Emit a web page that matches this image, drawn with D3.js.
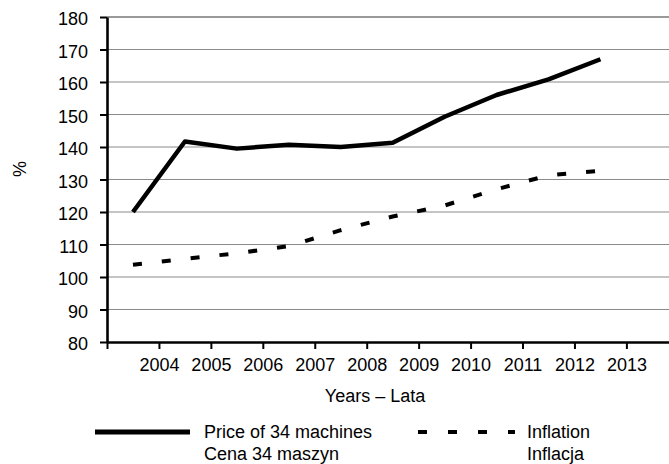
<!DOCTYPE html>
<html>
<head>
<meta charset="utf-8">
<script src="https://cdn.jsdelivr.net/npm/d3@7"></script>
<style>
    body { margin: 0; background: #fff; }
    svg { display: block; font-family: "Liberation Sans", Arial, sans-serif; }
</style>
</head>
<body>
<svg id="chart"></svg>
<script>
// tick labels sit on the right edge of each data band
const years = ['2004', '2005', '2006', '2007', '2008', '2009', '2010', '2011', '2012', '2013'];
const price = [120, 141.7, 139.5, 140.7, 140, 141.3, 149.3, 156, 160.8, 167];
const inflation = [103.8, 105.6, 107.3, 109.5, 114.4, 118.6, 122, 127, 131.3, 132.7];
const yTicks = [80, 90, 100, 110, 120, 130, 140, 150, 160, 170, 180];
const legendItems = [
    { lines: ['Price of 34 machines', 'Cena 34 maszyn'], dash: null },
    { lines: ['Inflation', 'Inflacja'], dash: '9,21' }
];

const width = 669;
const height = 464;
const plotLeft = 107, plotTop = 17, plotBottom = 342;
const band = 51.94;

const svg = d3.select('#chart')
    .attr('width', width)
    .attr('height', height);

const x = d3.scaleLinear()
    .domain([0, 11])
    .range([plotLeft, plotLeft + 11 * band]);

const y = d3.scaleLinear()
    .domain([80, 180])
    .range([plotBottom, plotTop]);

// grid
svg.append('g')
    .selectAll('line')
    .data(yTicks.slice(1))
    .join('line')
        .attr('x1', plotLeft)
        .attr('x2', width)
        .attr('y1', d => y(d))
        .attr('y2', d => y(d))
        .attr('stroke', d => d === 180 ? '#999' : '#8a8a8a')
        .attr('stroke-width', d => d === 180 ? 2 : 1);

// y axis
const yAxis = svg.append('g')
    .attr('transform', `translate(${plotLeft},0)`)
    .call(d3.axisLeft(y).tickValues(yTicks).tickSize(7).tickPadding(12).tickSizeOuter(0));
yAxis.select('.domain').attr('stroke', '#000').attr('stroke-width', 2.6);
yAxis.selectAll('.tick line').attr('stroke', '#000').attr('stroke-width', 2);
yAxis.selectAll('.tick text')
    .attr('font-size', 18)
    .attr('fill', '#000')
    .attr('dy', '0.42em');

// x axis
const xAxis = svg.append('g')
    .attr('transform', `translate(0,${plotBottom})`)
    .call(d3.axisBottom(x)
        .tickValues(d3.range(0, 12))
        .tickFormat(i => years[i - 1] || '')
        .tickSize(7)
        .tickPadding(9)
        .tickSizeOuter(0));
xAxis.select('.domain').attr('stroke', '#000').attr('stroke-width', 2.6);
xAxis.selectAll('.tick line').attr('stroke', '#000').attr('stroke-width', 2);
xAxis.selectAll('.tick text')
    .attr('font-size', 18)
    .attr('fill', '#000');

// axis titles
svg.append('text')
    .attr('transform', 'translate(26,169) rotate(-90)')
    .attr('text-anchor', 'middle')
    .attr('font-size', 18)
    .text('%');

svg.append('text')
    .attr('x', 375)
    .attr('y', 402)
    .attr('text-anchor', 'middle')
    .attr('font-size', 18)
    .text('Years – Lata');

// series
const line = d3.line()
    .x((d, i) => x(i + 0.5))
    .y(d => y(d));

svg.append('path')
    .datum(inflation)
    .attr('fill', 'none')
    .attr('stroke', '#000')
    .attr('stroke-width', 4)
    .attr('stroke-dasharray', '9,20')
    .attr('d', line);

svg.append('path')
    .datum(price)
    .attr('fill', 'none')
    .attr('stroke', '#000')
    .attr('stroke-width', 4.5)
    .attr('stroke-linejoin', 'round')
    .attr('d', line);

// legend
const legendX = [95, 418];
const legend = svg.append('g')
    .selectAll('g')
    .data(legendItems)
    .join('g')
        .attr('transform', (d, i) => `translate(${legendX[i]},432)`);

legend.append('line')
    .attr('x1', 0)
    .attr('x2', (d, i) => i === 0 ? 95 : 97)
    .attr('stroke', '#000')
    .attr('stroke-width', d => d.dash ? 4 : 5)
    .attr('stroke-dasharray', d => d.dash);

legend.append('text')
    .attr('y', 6)
    .attr('font-size', 18)
    .selectAll('tspan')
    .data(d => d.lines)
    .join('tspan')
        .attr('x', 109)
        .attr('dy', (d, i) => i === 0 ? 0 : 22)
        .text(d => d);
</script>
</body>
</html>
